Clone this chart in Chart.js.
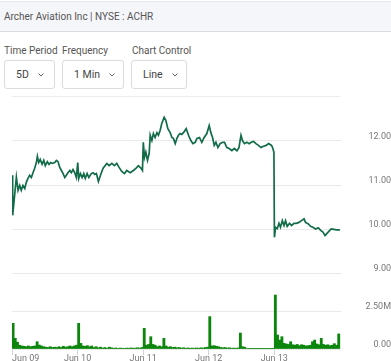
<!DOCTYPE html>
<html>
<head>
<meta charset="utf-8">
<script src="https://cdn.jsdelivr.net/npm/chart.js@4/dist/chart.umd.min.js"></script>
<style>
  html,body{margin:0;padding:0;width:391px;height:361px;overflow:hidden;background:#fff;font-family:Roboto,"Noto Sans",sans-serif;}
  #hdr{position:absolute;left:0;top:1px;width:391px;height:29px;background:#f5f6fa;border-top:1px solid #e7e7ea;border-bottom:1px solid #dadbe0;color:#555;font-size:10px;line-height:29px;padding-left:4px;box-sizing:content-box;}
  .lbl{position:absolute;top:45px;font-size:10px;color:#555;white-space:nowrap;}
  .box{position:absolute;top:60px;height:27px;border:1px solid #dcdcdc;border-radius:3px;font-size:10.5px;color:#444;line-height:27px;box-sizing:content-box;}
  .box span{position:absolute;top:0;}
  .box svg{position:absolute;top:12px;}
  #sep{position:absolute;left:12px;top:96px;width:328px;height:1px;background:#ececec;}
  #wrap{position:absolute;left:0;top:96px;width:391px;height:274px;}
</style>
</head>
<body>
<div id="hdr">Archer Aviation Inc | NYSE : ACHR</div>
<div class="lbl" style="left:4px">Time Period</div>
<div class="lbl" style="left:62px">Frequency</div>
<div class="lbl" style="left:132px">Chart Control</div>
<div class="box" style="left:4px;width:49px"><span style="left:11px">5D</span><svg style="left:33px" width="6" height="4" viewBox="0 0 6 4"><path d="M0.5 0.5 L3 3 L5.5 0.5" fill="none" stroke="#666" stroke-width="1"/></svg></div>
<div class="box" style="left:62px;width:60px"><span style="left:11px">1 Min</span><svg style="left:46px" width="6" height="4" viewBox="0 0 6 4"><path d="M0.5 0.5 L3 3 L5.5 0.5" fill="none" stroke="#666" stroke-width="1"/></svg></div>
<div class="box" style="left:131px;width:54px"><span style="left:11px">Line</span><svg style="left:40px" width="6" height="4" viewBox="0 0 6 4"><path d="M0.5 0.5 L3 3 L5.5 0.5" fill="none" stroke="#666" stroke-width="1"/></svg></div>
<div id="sep"></div>
<div id="wrap"><canvas id="c" width="391" height="274"></canvas></div>
<script>
// ---- data ----
// trading minutes since Jun 09 open (390 trading minutes per day)
const dayLabels = ['Jun 09','Jun 10','Jun 11','Jun 12','Jun 13'];
const dayTicks = [0, 390, 780, 1170, 1560];
const minutesPerDay = 390;

const priceMinutes = [
  0,4,26,36,46,55,65,76,85,95,105,115,125,135,145,151,159,168,179,189,198,210,220,230,240,254,264,274,284,294,304,314,323,333,344,353,363,373,383,
  391,397,407,417,427,436,447,457,472,482,492,502,514,530,542,564,578,594,609,623,637,653,669,683,703,722,737,752,768,776,
  781,788,796,806,816,822,832,841,851,862,871,881,891,905,915,927,941,951,960,971,981,990,1000,1010,1020,1036,1050,1064,1076,1090,1100,1115,1129,1143,1159,
  1173,1183,1193,1203,1213,1225,1238,1252,1264,1278,1292,1308,1322,1338,1350,1362,1371,1383,1397,1411,1423,1437,1451,1466,1481,1496,1512,1526,1544,1552,1558,
  1561,1568,1578,1588,1597,1608,1618,1627,1637,1651,1663,1677,1691,1707,1722,1737,1746,1761,1776,1790,1806,1822,1836,1850,1862,1871,1886,1899,1915,1929,1945,1950
];
const priceValues = [
  11.22,10.31,11.18,10.88,10.99,10.88,10.99,10.92,11.06,11.15,11.22,11.17,11.28,11.38,11.51,11.65,11.51,11.58,11.47,11.56,11.44,11.53,11.47,11.51,11.49,11.51,11.56,11.53,11.40,11.33,11.26,11.17,11.22,11.28,11.33,11.28,11.35,11.28,11.17,
  11.51,11.15,11.26,11.17,11.26,11.15,11.26,11.17,11.26,11.28,11.24,11.26,11.08,11.26,11.38,11.49,11.44,11.49,11.44,11.49,11.40,11.31,11.26,11.33,11.28,11.33,11.38,11.44,11.38,11.33,
  11.97,11.63,11.75,11.56,11.72,12.13,12.01,12.17,12.08,12.19,12.13,12.24,12.40,12.54,12.47,12.28,12.19,12.08,12.06,11.94,12.06,12.13,12.17,12.15,12.19,12.28,12.13,12.01,11.94,11.97,12.06,12.08,11.97,12.08,12.17,
  12.35,12.19,12.08,11.90,11.97,11.85,11.94,11.97,11.97,11.85,11.83,11.78,11.83,11.78,11.85,12.13,12.01,11.94,11.97,11.94,11.97,11.99,11.94,11.90,11.85,11.88,11.90,11.94,11.90,11.83,11.74,
  9.81,10.04,10.01,10.13,10.04,10.19,10.08,10.19,10.06,10.13,10.08,10.13,10.13,10.15,10.19,10.23,10.15,10.12,10.06,10.04,10.00,10.03,9.97,9.93,9.85,9.89,9.95,10.00,9.99,9.98,9.98,9.97
];

// volume (millions of shares), 30 buckets per trading day
const volJun09 = [1.69,0.70,0.45,0.25,0.20,0.18,0.15,0.20,0.15,0.18,0.20,0.48,0.26,0.20,0.15,0.12,0.10,0.15,0.10,0.12,0.10,0.15,0.10,0.18,0.12,0.15,0.20,0.15,0.20,0.25];
const volJun10 = [1.69,0.37,0.20,0.18,0.22,0.15,0.20,0.10,0.15,0.08,0.12,0.06,0.10,0.05,0.12,0.08,0.05,0.07,0.04,0.06,0.05,0.04,0.06,0.05,0.07,0.05,0.06,0.08,0.06,0.10];
const volJun11 = [1.36,0.25,0.30,0.81,0.30,0.25,0.15,0.20,0.15,0.70,0.20,0.12,0.15,0.10,0.12,0.08,0.10,0.06,0.08,0.05,0.07,0.05,0.06,0.05,0.07,0.05,0.08,0.06,0.10,0.12];
const volJun12 = [2.13,0.20,0.22,0.18,0.15,0.10,0.08,0.10,0.06,0.08,0.05,0.06,0.05,0.07,1.05,0.15,0.12,0.03,0.02,0.02,0.02,0.02,0.02,0.02,0.02,0.02,0.02,0.02,0.02,0.02];
const volJun13 = [3.55,0.92,0.59,0.81,0.37,0.33,0.30,0.48,0.28,0.25,0.30,0.22,0.28,0.25,0.20,0.22,0.25,0.48,0.59,0.33,0.28,0.70,0.30,0.25,0.28,0.22,0.25,0.35,0.25,0.99];

const priceTicks = [9, 10, 11, 12];
const volumeTicks = [0, 2.5];

// ---- build ----
const volDays = [volJun09, volJun10, volJun11, volJun12, volJun13];
const volumeData = [];
volDays.forEach((arr, d) => {
  const step = minutesPerDay / arr.length;
  arr.forEach((v, i) => volumeData.push({x: d * minutesPerDay + (i + 0.5) * step, y: v}));
});
const priceData = priceMinutes.map((m, i) => ({x: m, y: priceValues[i]}));

const FONT = '9px Roboto';
const mctx = document.createElement('canvas').getContext('2d');
mctx.font = FONT;
const w1 = Math.max(...priceTicks.map(v => mctx.measureText(v.toFixed(2)).width));
const w2 = Math.max(...volumeTicks.map(v => mctx.measureText(v === 0 ? '0.00' : v.toFixed(2) + 'M').width));
const AXW = 50;
const LABEL_RIGHT = 35.5; // distance from plot right edge to label right edge

const xLabels = {
  id: 'xlabels',
  afterDraw(chart) {
    const sc = chart.scales.x, ctx = chart.ctx;
    ctx.save();
    ctx.font = FONT;
    ctx.fillStyle = '#777';
    ctx.textBaseline = 'top';
    dayTicks.forEach((v, i) => {
      ctx.textAlign = i === 0 ? 'left' : 'center';
      ctx.fillText(dayLabels[i], sc.getPixelForValue(v), sc.top + 5);
    });
    ctx.restore();
  }
};

const fitY = s => { s.width = AXW; s.paddingTop = 0; s.paddingBottom = 0; };

Chart.defaults.font.family = 'Roboto';
Chart.defaults.font.size = 9;
Chart.defaults.color = '#777';

new Chart(document.getElementById('c'), {
  data: {
    datasets: [
      {type: 'line', data: priceData, yAxisID: 'y', borderColor: '#116c47', borderWidth: 1.7, pointRadius: 0, tension: 0, order: 1},
      {type: 'bar', data: volumeData, yAxisID: 'y2', backgroundColor: '#0b850b', barPercentage: 1, categoryPercentage: 1, order: 2}
    ]
  },
  options: {
    responsive: false,
    animation: false,
    devicePixelRatio: 1,
    layout: {padding: {left: 12, top: 4, right: 0, bottom: 0}},
    plugins: {legend: {display: false}, tooltip: {enabled: false}},
    scales: {
      x: {
        type: 'linear', min: 0, max: 1957, offset: false,
        afterBuildTicks: s => { s.ticks = dayTicks.map(v => ({value: v})); },
        afterFit: s => { s.height = 21; s.paddingLeft = 0; s.paddingRight = 0; },
        ticks: {display: false},
        grid: {drawOnChartArea: false, drawTicks: true, tickLength: 6, color: '#c9d4e0', offset: false},
        border: {display: false}
      },
      y: {
        type: 'linear', position: 'right', stack: 'main', stackWeight: 173,
        min: 9, max: 9 + 173 / 44,
        afterBuildTicks: s => { s.ticks = priceTicks.map(v => ({value: v})); },
        afterFit: fitY,
        ticks: {crossAlign: 'far', padding: LABEL_RIGHT - w1, labelOffset: -4, callback: v => Number(v).toFixed(2)},
        grid: {color: '#e9e9e9', drawTicks: false},
        border: {display: false}
      },
      y2: {
        type: 'linear', position: 'right', stack: 'main', stackWeight: 76,
        min: 0, max: 5,
        afterBuildTicks: s => { s.ticks = volumeTicks.map(v => ({value: v})); },
        afterFit: fitY,
        ticks: {crossAlign: 'far', padding: LABEL_RIGHT - w2, labelOffset: -4, callback: v => v === 0 ? '0.00' : Number(v).toFixed(2) + 'M'},
        grid: {color: '#e9e9e9', drawTicks: false},
        border: {display: false}
      }
    }
  },
  plugins: [xLabels]
});
</script>
</body>
</html>
